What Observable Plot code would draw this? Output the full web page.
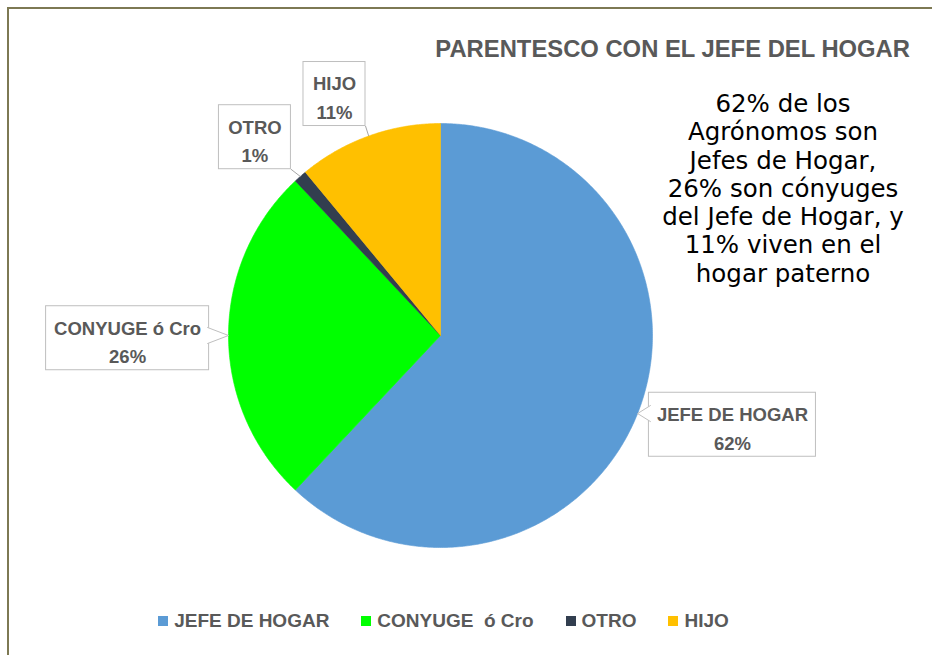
<!DOCTYPE html>
<html><head><meta charset="utf-8">
<script src="https://cdn.jsdelivr.net/npm/d3@7"></script>
<script src="https://cdn.jsdelivr.net/npm/@observablehq/plot@0.6"></script>
<style>
html,body{margin:0;padding:0;background:#fff;}
#wrap{position:relative;width:932px;height:655px;overflow:hidden;}
#frame{position:absolute;left:7px;top:7px;width:940px;height:660px;border-top:2px solid #7d7953;border-left:2px solid #7d7953;}
#chart{position:absolute;left:0;top:0;}
#title{position:absolute;right:22px;top:37px;font:bold 23.8px 'Liberation Sans',Arial,sans-serif;line-height:1;color:#595959;white-space:nowrap;}
#note{position:absolute;left:633px;top:90px;width:300px;text-align:center;font:24.5px 'DejaVu Sans',Verdana,sans-serif;line-height:28.3px;color:#000;white-space:nowrap;}
#legend{position:absolute;left:0;top:609px;width:887px;}
#legend .lg-swatches{display:flex;justify-content:center;align-items:center;font:bold 19px 'Liberation Sans',Arial,sans-serif !important;color:#595959 !important;margin:0 !important;min-height:24px !important;}
#legend .lg-swatch{margin-right:32px !important;white-space:pre;display:inline-flex;align-items:center;}
#legend .lg-swatch:last-child{margin-right:0 !important;}
#legend .lg-swatch>svg{margin-right:6px !important;}
</style>
</head><body>
<div id="wrap">
  <div id="frame"></div>
  <div id="chart"></div>
  <div id="title"></div>
  <div id="note"></div>
  <div id="legend"></div>
</div>
<script>
// ---- data ----
const categories = ["JEFE DE HOGAR", "CONYUGE  ó Cro", "OTRO", "HIJO"];
const percents = [62, 26, 1, 11];
const titleText = "PARENTESCO CON EL JEFE DEL HOGAR";
const noteLines = ["62% de los", "Agrónomos son", "Jefes de Hogar,", "26% son cónyuges", "del Jefe de Hogar, y", "11% viven en el", "hogar paterno"];

// ---- styles & layout ----
const sliceColors = ["#5B9BD5", "#00FF00", "#323E4F", "#FFC000"];
const W = 932, H = 655, CX = 440, CY = 335, R = 212;
const labelRadius = [1.44, 1.476, 1.281, 1.244];
const labelShift = [-4.6, -0.5, -1.7, -3.9];
const pointerStyle = ["wedge", "wedge", "line", "line"];
const labelFont = "'Liberation Sans', Arial, sans-serif";

document.getElementById("title").textContent = titleText;
document.getElementById("note").innerHTML = noteLines.join("<br>");

const arcs = d3.pie().sort(null).value(d => d.value)(categories.map((c, i) => ({category: c, value: percents[i]})));

const slicePts = [];
arcs.forEach(a => {
  const c = a.data.category;
  slicePts.push({category: c, x: 0, y: 0});
  const n = Math.max(2, Math.ceil((a.endAngle - a.startAngle) / (Math.PI / 360)));
  for (let k = 0; k <= n; k++) {
    const t = a.startAngle + (a.endAngle - a.startAngle) * k / n;
    slicePts.push({category: c, x: Math.sin(t), y: Math.cos(t)});
  }
  slicePts.push({category: c, x: 0, y: 0});
});

const ctx = document.createElement("canvas").getContext("2d");
ctx.font = "bold 18px " + labelFont;
const labels = arcs.map((a, i) => {
  const name = a.data.category.replace(/\s+/g, " ");
  const pct = a.data.value + "%";
  const mid = (a.startAngle + a.endAngle) / 2;
  const lm = mid + labelShift[i] * Math.PI / 180;
  const lx = labelRadius[i] * Math.sin(lm), ly = labelRadius[i] * Math.cos(lm);
  const tw = Math.max(ctx.measureText(name).width, ctx.measureText(pct).width);
  const hw = (tw + 20) / 2 / R, hh = 32 / R;
  return {name, pct, text: name + "\n" + pct, lx, ly, x1: lx - hw, x2: lx + hw, y1: ly - hh, y2: ly + hh,
          ax: Math.sin(mid), ay: Math.cos(mid), style: pointerStyle[i]};
});

const wedgePts = [], leaders = [];
const clamp = (v, lo, hi) => Math.max(lo, Math.min(hi, v));
labels.forEach(l => {
  if (l.style === "wedge") {
    const half = 8 / R, inset = 1.5 / R, pad = 4 / R;
    let b1, b2;
    if (l.ax < l.x1 || l.ax > l.x2) {
      const ex = l.ax < l.x1 ? l.x1 + inset : l.x2 - inset;
      const yc = clamp(l.ay, l.y1 + half + pad, l.y2 - half - pad);
      b1 = [ex, yc + half]; b2 = [ex, yc - half];
    } else {
      const ey = l.ay > l.y2 ? l.y2 - inset : l.y1 + inset;
      const xc = clamp(l.ax, l.x1 + half + pad, l.x2 - half - pad);
      b1 = [xc - half, ey]; b2 = [xc + half, ey];
    }
    wedgePts.push({name: l.name, x: b1[0], y: b1[1]}, {name: l.name, x: l.ax, y: l.ay}, {name: l.name, x: b2[0], y: b2[1]});
  } else {
    leaders.push({x1: clamp(l.ax, l.x1, l.x2), y1: clamp(l.ay, l.y1, l.y2), x2: l.ax, y2: l.ay});
  }
});

const chart = Plot.plot({
  width: W, height: H, margin: 0,
  x: {domain: [-CX / R, (W - CX) / R], axis: null},
  y: {domain: [-(H - CY) / R, CY / R], axis: null},
  color: {domain: categories, range: sliceColors},
  marks: [
    Plot.line(slicePts, {x: "x", y: "y", z: "category", fill: "category", stroke: "category", strokeWidth: 0.6, curve: "linear"}),
    Plot.link(leaders, {x1: "x1", y1: "y1", x2: "x2", y2: "y2", stroke: "#A6A6A6", strokeWidth: 1}),
    Plot.rect(labels, {x1: "x1", x2: "x2", y1: "y1", y2: "y2", fill: "white", stroke: "#BFBFBF", strokeWidth: 1}),
    Plot.line(wedgePts, {x: "x", y: "y", z: "name", fill: "white", stroke: "#BFBFBF", strokeWidth: 1, curve: "linear"}),
    Plot.text(labels, {x: "lx", y: "ly", text: "text", dy: 1.5, lineHeight: 1.55, fontSize: 18.5, fontWeight: "bold", fill: "#595959", fontFamily: labelFont})
  ]
});
document.getElementById("chart").appendChild(chart);

const legend = Plot.legend({
  color: {type: "ordinal", domain: categories, range: sliceColors},
  legend: "swatches", swatchSize: 10, className: "lg"
});
document.getElementById("legend").appendChild(legend);
</script>
</body></html>
